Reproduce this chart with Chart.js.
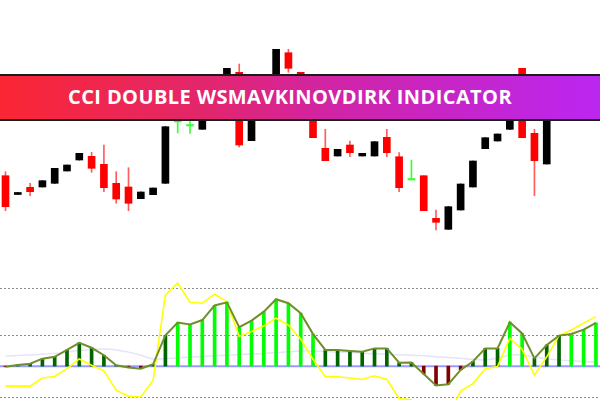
<!DOCTYPE html>
<html>
<head>
<meta charset="utf-8">
<script src="https://cdn.jsdelivr.net/npm/chart.js@4.4.1/dist/chart.umd.min.js"></script>
<style>
  html, body { margin: 0; padding: 0; background: #fff; }
  #wrap { position: relative; width: 600px; height: 400px; overflow: hidden; }
  #priceChart { position: absolute; left: 0; top: 0; }
  #cciChart { position: absolute; left: 0; top: 280px; }
  #banner {
    position: absolute; left: 0; top: 74px; width: 600px; height: 47px;
    box-sizing: border-box;
    border-top: 2px solid #1c1c1c; border-bottom: 2px solid #1c1c1c;
    background: linear-gradient(90deg, #fb2633 0%, #e2266e 35%, #d124a6 55%, #bb26f1 100%);
    display: flex; align-items: center; justify-content: center;
    color: #fff; font: 700 20px 'Open Sans', sans-serif; letter-spacing: 0.4px;
    padding: 0 20px 3px 0;
  }
</style>
</head>
<body>
<div id="wrap">
  <canvas id="priceChart" width="600" height="240"></canvas>
  <canvas id="cciChart" width="600" height="120"></canvas>
  <div id="banner">CCI DOUBLE WSMAVKINOVDIRK INDICATOR</div>
</div>
<script>
// bar index along the time axis
const bars = [0, 1, 2, 3, 4, 5, 6, 7, 8, 9, 10, 11, 12, 13, 14, 15, 16, 17, 18, 19, 20, 21, 22, 23, 24,
              25, 26, 27, 28, 29, 30, 31, 32, 33, 34, 35, 36, 37, 38, 39, 40, 41, 42, 43, 44, 45, 46, 47, 48];

// candles (45 of them)
const opens  = [74.3, 55.5, 62.7, 63, 66.7, 79, 90, 93.7, 85.7, 66.7, 63, 51.3, 55.3, 66.7, 128, 124, 120.7, 138, 150, 177.7,
                109.3, 150, 165, 197.3, 177.7, 152, 101.7, 94, 105, 94, 94, 112.7, 93.3, 70, 74.3, 31.7, 20.7, 40, 63, 101.3,
                109, 120.7, 181.7, 116.7, 86];
const highs  = [78.3, 57.5, 66.7, 69.3, 81.7, 85, 96.7, 97.7, 105, 78.3, 82.3, 58, 62, 123.3, 130, 128.3, 138, 165, 181.7, 186,
                160, 165, 200.7, 200.7, 177.7, 152, 120.7, 100.7, 109, 96.7, 108.3, 120.7, 97.3, 90, 74.3, 40, 43.3, 66, 89, 112.3,
                116, 145, 181.7, 120.7, 145];
const lows   = [39.3, 55.5, 54.3, 63, 66.7, 79, 90, 77.7, 58.3, 46.7, 39.3, 51.3, 55.3, 66.7, 117, 116.7, 120.7, 138, 150, 103,
                109.3, 150, 165, 177.7, 150, 112.3, 89.3, 94, 93.3, 94, 94, 93.3, 58.3, 70, 39.3, 20, 20.7, 40, 63, 101.3,
                109, 120.7, 112.3, 54.3, 86];
const closes = [43.3, 57.5, 58.3, 69.3, 81.7, 85, 96.7, 81.7, 62.3, 51, 46.7, 58, 62, 123.3, 128, 124, 138, 165, 181.7, 105,
                160, 165, 200.7, 181.7, 150, 112.3, 89.3, 100.7, 97.3, 96.7, 108.3, 97.3, 62.3, 70, 39.3, 27.7, 43.3, 66, 89, 112.3,
                116, 145, 112.3, 89.3, 145];

// indicator window
const cciFast = [-2, 4, 8, 24, 30, 52, 75, 59, 35, 3, -4, -8, 6, 99, 140, 134, 148, 195, 205, 125,
                 146, 175, 215, 202, 170, 103, 52, 52, 49, 46, 57, 57, 11, 12, -25, -62, -58, -12, 15, 57,
                 57, 141, 105, 25, 68, 98, 103, 117, 139];
const cciSlow = [-64, -64, -64, -38, -33, -8, 23, 3, -15, -77, -97, -99, -45, 229, 267, 205, 202, 231, 207, 95,
                 111, 129, 154, 132, 87, 22, -34, -34, -38, -43, -31, -43, -104, -108, -140, -165, -160, -80, -56, -8,
                 -1, 89, 54, -29, 30, 98, 116, 138, 159];
const cciAvg  = [32, 34, 36, 38, 41, 45, 50, 54, 55, 52, 45, 35, 23, 24, 27, 29, 31, 33, 35, 37,
                 39, 41, 44, 46, 49, 48, 47, 45, 44, 42, 40, 38, 36, 35, 33, 30, 28, 25, 22, 20,
                 26, 35, 36, 30, 24, 20, 17, 15, 14];
const levels = [250, 100, -100];

const xAxis = { type: 'linear', display: false, offset: false, min: -0.447, max: 48.33 };

function candleColor(i) {
    if (closes[i] > opens[i]) return '#000000';
    if (closes[i] < opens[i]) return '#ff0000';
    return '#39ff39';
}

new Chart(document.getElementById('priceChart'), {
    type: 'bar',
    data: {
        datasets: [
            {
                // wicks
                data: opens.map((o, i) => ({ x: bars[i], y: [lows[i], highs[i]] })),
                backgroundColor: ctx => {
                    const c = candleColor(ctx.dataIndex);
                    return c === '#ff0000' ? '#ff5c5c' : c;
                },
                barThickness: 1,
                grouped: false,
                order: 2
            },
            {
                // bodies
                data: opens.map((o, i) => ({ x: bars[i], y: [o, closes[i]] })),
                backgroundColor: ctx => candleColor(ctx.dataIndex),
                barThickness: 7,
                minBarLength: 1.5,
                grouped: false,
                order: 1
            }
        ]
    },
    options: {
        responsive: false,
        animation: false,
        layout: { padding: 0 },
        plugins: { legend: { display: false }, tooltip: { enabled: false } },
        scales: {
            x: xAxis,
            y: { display: false, min: 10, max: 250 }
        }
    }
});

const levelLines = {
    id: 'levelLines',
    beforeDatasetsDraw(chart) {
        const { ctx, chartArea, scales } = chart;
        ctx.save();
        ctx.lineWidth = 1;
        ctx.strokeStyle = '#8c8c8c';
        ctx.setLineDash([2, 2]);
        levels.forEach(v => {
            const y = Math.round(scales.y.getPixelForValue(v)) + 0.5;
            ctx.beginPath();
            ctx.moveTo(chartArea.left, y);
            ctx.lineTo(chartArea.right, y);
            ctx.stroke();
        });
        ctx.setLineDash([]);
        const y0 = scales.y.getPixelForValue(0);
        ctx.strokeStyle = '#9a9aff';
        ctx.lineWidth = 2;
        ctx.beginPath();
        ctx.moveTo(chartArea.left, y0);
        ctx.lineTo(chartArea.right, y0);
        ctx.stroke();
        ctx.restore();
    }
};

new Chart(document.getElementById('cciChart'), {
    data: {
        datasets: [
            {
                type: 'line',
                data: cciAvg.map((v, i) => ({ x: bars[i], y: v })),
                borderColor: '#e4e4fb',
                borderWidth: 1.5,
                pointRadius: 0,
                tension: 0.3,
                order: 5
            },
            {
                type: 'bar',
                data: cciFast.map((v, i) => ({ x: bars[i], y: v })),
                backgroundColor: ctx => {
                    const v = cciFast[ctx.dataIndex];
                    if (v > 100) return '#00ff00';
                    if (v >= 0) return '#006400';
                    return '#800000';
                },
                barThickness: 3,
                order: 4
            },
            {
                type: 'line',
                data: cciSlow.map((v, i) => ({ x: bars[i], y: v })),
                borderColor: '#ffff00',
                borderWidth: 1.6,
                pointRadius: 0,
                tension: 0,
                order: 3
            },
            {
                type: 'line',
                data: cciFast.map((v, i) => ({ x: bars[i], y: v })),
                borderColor: '#6f8f2a',
                borderWidth: 2,
                pointRadius: 0,
                tension: 0,
                order: 2
            }
        ]
    },
    options: {
        responsive: false,
        animation: false,
        layout: { padding: 0 },
        plugins: { legend: { display: false }, tooltip: { enabled: false } },
        scales: {
            x: xAxis,
            y: { display: false, min: -108.7, max: 276.6 }
        }
    },
    plugins: [levelLines]
});
</script>
</body>
</html>
